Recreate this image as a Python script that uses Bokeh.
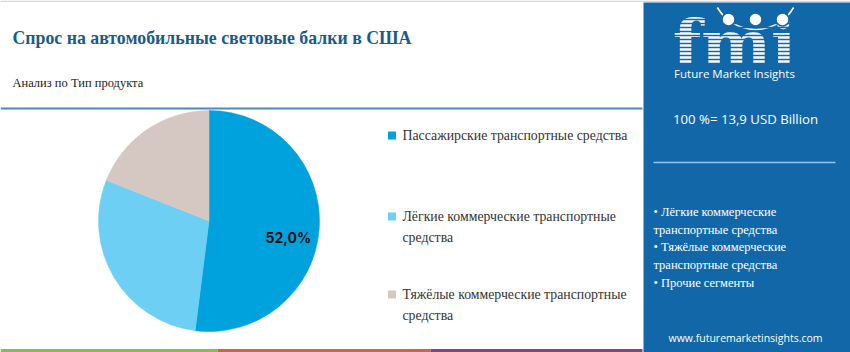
import math
from bokeh.plotting import figure
from bokeh.models import Range1d
from bokeh.core.properties import value
from bokeh.embed import file_html
from bokeh.resources import INLINE

# ---- data ----
categories = ["Пассажирские транспортные средства",
              "Лёгкие коммерческие транспортные средства",
              "Тяжёлые коммерческие транспортные средства"]
legend_lines = [["Пассажирские транспортные средства"],
                ["Лёгкие коммерческие  транспортные", "средства"],
                ["Тяжёлые коммерческие транспортные", "средства"]]
shares = [52.0, 29.0, 19.0]
slice_colors = ["#00A2DD", "#6DCFF4", "#D5C8C3"]
shown_label = ["52,0%", "", ""]
title = "Спрос на автомобильные световые балки в США"
subtitle = "Анализ по Тип продукта"
total_text = "100 %= 13,9 USD Billion"
panel_bullets = ["• Лёгкие коммерческие", "транспортные средства",
                 "• Тяжёлые коммерческие", "транспортные средства",
                 "• Прочие сегменты"]
site = "www.futuremarketinsights.com"
strip_colors = ["#8BBB4F", "#D2643A", "#8A3C8E"]

W, H = 850, 352
def Y(s):
    return H - s

p = figure(width=W, height=H, x_range=Range1d(0, W), y_range=Range1d(0, H),
           output_backend="svg", toolbar_location=None,
           x_axis_type=None, y_axis_type=None,
           min_border=0, min_border_left=0, min_border_right=0,
           min_border_top=0, min_border_bottom=0)
p.grid.visible = False
p.outline_line_color = None
p.background_fill_color = "white"
p.border_fill_color = "white"

SERIF = value("Liberation Serif")
SANS = value("Open Sans")

# top faint border
p.quad(left=[0], right=[W], bottom=[Y(1.5)], top=[Y(0)], fill_color="#d8d8d8", line_color=None)

# title & subtitle
p.text(x=[12], y=[Y(37)], text=[title], text_font=SERIF, text_font_size="17.8px",
       text_font_style="bold", text_color="#1B5A8C", text_baseline="middle")
p.text(x=[12], y=[Y(82)], text=[subtitle], text_font=SERIF, text_font_size="12.5px",
       text_color="#222222", text_baseline="middle")
# header rule
p.segment(x0=[0], y0=[Y(108)], x1=[642], y1=[Y(108)], line_color="#4F86C0", line_width=2)

# pie
cx, cy, R = 208.5, Y(220.5), 110.5
tot = sum(shares)
cum = 0.0
for s, c in zip(shares, slice_colors):
    a0 = math.pi / 2 - 2 * math.pi * (cum + s) / tot
    a1 = math.pi / 2 - 2 * math.pi * cum / tot
    p.wedge(x=[cx], y=[cy], radius=R, start_angle=a0, end_angle=a1,
            fill_color=c, line_color=c, line_width=0.5)
    cum += s
cum = 0.0
for s, lab in zip(shares, shown_label):
    mid = math.pi / 2 - 2 * math.pi * (cum + s / 2) / tot
    cum += s
    if lab:
        lx = cx + 0.72 * R * math.cos(mid)
        ly = cy + 0.72 * R * math.sin(mid) - 12
        p.text(x=[lx], y=[ly], text=[lab], text_font=value("Inter"), text_font_size="14px",
               text_font_style="bold", text_color="#111111", text_align="center",
               text_baseline="middle")

# legend
leg_y = [135, 216, 294]
for ly, lines, c in zip(leg_y, legend_lines, slice_colors):
    p.rect(x=[391.5], y=[Y(ly)], width=8, height=8, fill_color=c, line_color=None)
    for i, t in enumerate(lines):
        p.text(x=[402], y=[Y(ly + 21 * i)], text=[t], text_font=SERIF, text_font_size="13.8px",
               text_color="#333333", text_baseline="middle")

# bottom strips
edges = [0, 217, 430, 642]
for i, c in enumerate(strip_colors):
    p.quad(left=[edges[i]], right=[edges[i + 1]], bottom=[Y(352)], top=[Y(348.5)],
           fill_color=c, line_color=None)

# right panel
PANEL = "#1167A8"
p.quad(left=[643], right=[W], bottom=[Y(352)], top=[Y(2)], fill_color=PANEL, line_color=None)

# logo
p.arc(x=[755], y=[Y(-15)], radius=44, start_angle=math.radians(210), end_angle=math.radians(330),
      direction="anticlock", line_color="white", line_width=1.5)
p.text(x=[734], y=[Y(43)], text=["fmi"], text_font=value("DejaVu Serif"), text_font_size="66px",
       text_font_style="bold", text_color="white", text_align="center", text_baseline="middle")
stripe_y = [Y(v) for v in range(19, 64, 4)]
p.segment(x0=[668] * len(stripe_y), y0=stripe_y, x1=[800] * len(stripe_y), y1=stripe_y,
          line_color=PANEL, line_width=1.3)
p.quad(left=[668], right=[800], bottom=[Y(68)], top=[Y(63.5)], fill_color=PANEL, line_color=None)
p.circle(x=[728, 755, 782], y=[Y(19)] * 3, radius=6.5, fill_color="white", line_color=PANEL,
         line_width=1.5)
p.text(x=[734], y=[Y(73)], text=["Future Market Insights"], text_font=SANS, text_font_size="11.5px",
       text_color="white", text_align="center", text_baseline="middle")

p.text(x=[745], y=[Y(118)], text=[total_text], text_font=SANS, text_font_size="13.2px",
       text_color="white", text_align="center", text_baseline="middle")
p.segment(x0=[653], y0=[Y(162)], x1=[835], y1=[Y(162)], line_color="#8EC5EE", line_width=1.5)

by = [211, 229, 246, 264, 282]
for yy, t in zip(by, panel_bullets):
    p.text(x=[653], y=[Y(yy)], text=[t], text_font=SERIF, text_font_size="12.5px",
           text_color="white", text_baseline="middle")

p.text(x=[745], y=[Y(337)], text=[site], text_font=SANS, text_font_size="10.5px",
       text_color="white", text_align="center", text_baseline="middle")

open("out.html", "w").write(file_html(p, INLINE))
